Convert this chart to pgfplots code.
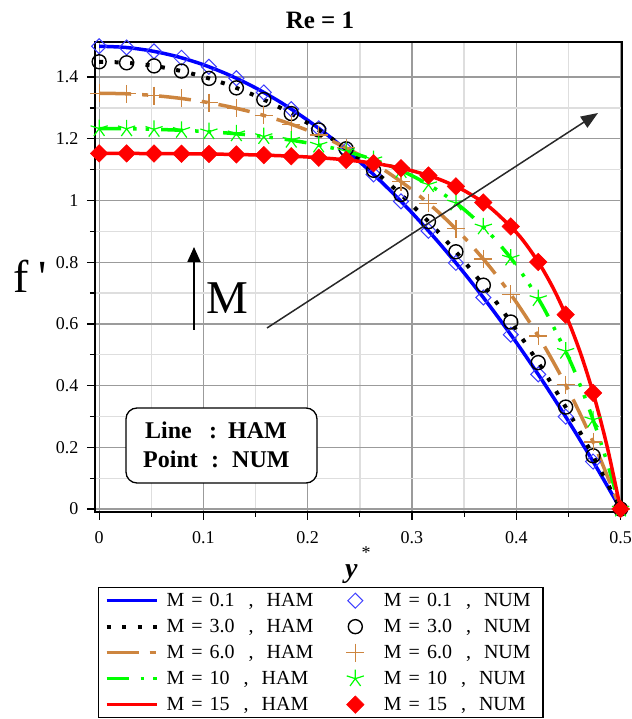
\documentclass[border=0pt]{standalone}
\usepackage{pgfplots}
\pgfplotsset{compat=1.18}
\usepackage{fontspec}
\setmainfont{Liberation Serif}
\usetikzlibrary{arrows.meta}
\definecolor{hamblue}{RGB}{0,0,255}
\definecolor{numblue}{RGB}{60,60,255}
\definecolor{hambrown}{RGB}{205,133,63}
\definecolor{hamgreen}{RGB}{0,255,0}
\definecolor{hamred}{RGB}{255,0,0}
\definecolor{majgrid}{RGB}{155,155,155}
\definecolor{mingrid}{RGB}{222,222,222}
\definecolor{arrowgray}{RGB}{40,40,40}
\pgfplotsset{
  hamleg/.style={legend image code/.code={\draw[##1] (0pt,0pt) -- (50pt,0pt);}},
  numleg/.style={legend image code/.code={\path (0pt,0pt) (40pt,0pt); \draw[##1] plot coordinates {(20pt,0pt)};}},
}
\newcommand{\hamtxt}[1]{\makebox[160pt][l]{M\hspace{7pt}=\hspace{7pt}#1\hspace{14pt},\hspace{13pt}HAM}}
\newcommand{\numtxt}[1]{\makebox[145pt][l]{M\hspace{7pt}=\hspace{7pt}#1\hspace{14pt},\hspace{13pt}NUM}}
\begin{document}
\begin{tikzpicture}
\useasboundingbox (0pt,0pt) rectangle (631pt,719pt);
\begin{axis}[
  at={(95pt,207pt)}, anchor=south west,
  scale only axis, width=527pt, height=470pt,
  xmin=-0.004, xmax=0.5014, ymin=-0.0097, ymax=1.5138,
  xtick={0,0.1,0.2,0.3,0.4,0.5}, ytick={0,0.2,0.4,0.6,0.8,1,1.2,1.4},
  minor x tick num=1, minor y tick num=1,
  grid=both,
  major grid style={majgrid, line width=1.3pt},
  minor grid style={mingrid, line width=1.3pt},
  tick align=outside, tick pos=left,
  major tick length=8pt, minor tick length=5pt,
  tick style={black, line width=1.2pt},
  axis line style={black, line width=1.3pt},
  tick label style={font=\fontsize{18}{20}\selectfont},
  xticklabel style={yshift=-8pt},
  yticklabel style={xshift=-5pt},
  /pgf/number format/assume math mode=true,
  clip=false,
  legend columns=2,
  legend cell align=left,
  legend style={at={(axis description cs:0.0057,-0.1596)}, anchor=north west,
    draw=black, line width=1.3pt, inner xsep=6pt, inner ysep=0pt,
    font=\fontsize{20}{22}\selectfont,
    nodes={inner xsep=8pt, inner ysep=4.5pt, text height=14pt, text depth=3pt},
    row sep=0pt, column sep=0pt},
]
% M = 0.1
\addplot[hamblue, line width=3.5pt, smooth, hamleg] coordinates {
(0,1.5)(0.025,1.49625)(0.05,1.485)(0.075,1.46625)(0.1,1.44)(0.125,1.40625)(0.15,1.365)(0.175,1.31625)(0.2,1.26)(0.225,1.19625)(0.25,1.125)(0.275,1.04625)(0.3,0.96)(0.325,0.86625)(0.35,0.765)(0.375,0.65625)(0.4,0.54)(0.425,0.41625)(0.45,0.285)(0.475,0.14625)(0.5,0)};
\addlegendentry{\hamtxt{0.1}}
\addplot[numblue, only marks, mark=square, mark size=5.3pt, mark options={rotate=45, line width=1pt, solid}, numleg] coordinates {
(0,1.5)(0.02632,1.4958)(0.05263,1.4834)(0.07895,1.4626)(0.10526,1.4335)(0.13158,1.3961)(0.15789,1.3504)(0.18421,1.2964)(0.21053,1.2341)(0.23684,1.1634)(0.26316,1.0845)(0.28947,0.9972)(0.31579,0.9017)(0.34211,0.7978)(0.36842,0.6856)(0.39474,0.5651)(0.42105,0.4363)(0.44737,0.2992)(0.47368,0.1537)(0.5,0)};
\addlegendentry{\numtxt{0.1}}
% M = 3
\addplot[black, line width=4pt, smooth, dash pattern=on 4pt off 11.5pt, hamleg] coordinates {
(0,1.4497)(0.025,1.44668)(0.05,1.43762)(0.075,1.42243)(0.1,1.4011)(0.125,1.37344)(0.15,1.33932)(0.175,1.29855)(0.2,1.25089)(0.225,1.19609)(0.25,1.13382)(0.275,1.06374)(0.3,0.98546)(0.325,0.89853)(0.35,0.80247)(0.375,0.69673)(0.4,0.58073)(0.425,0.4538)(0.45,0.31523)(0.475,0.16421)(0.5,0)};
\addlegendentry{\hamtxt{3.0}}
\addplot[black, only marks, mark=o, mark size=7pt, mark options={line width=1.4pt, solid}, numleg] coordinates {
(0,1.4497)(0.02632,1.44636)(0.05263,1.43631)(0.07895,1.41949)(0.10526,1.39581)(0.13158,1.3651)(0.15789,1.32717)(0.18421,1.2818)(0.21053,1.2287)(0.23684,1.16754)(0.26316,1.09793)(0.28947,1.01945)(0.31579,0.93159)(0.34211,0.83382)(0.36842,0.72553)(0.39474,0.60604)(0.42105,0.47459)(0.44737,0.33038)(0.47368,0.17252)(0.5,0)};
\addlegendentry{\numtxt{3.0}}
% M = 6
\addplot[hambrown, line width=3.5pt, smooth, dash pattern=on 32pt off 11pt on 6pt off 11pt, hamleg] coordinates {
(0,1.34768)(0.025,1.346)(0.05,1.34094)(0.075,1.33237)(0.1,1.32011)(0.125,1.30388)(0.15,1.28331)(0.175,1.25794)(0.2,1.22719)(0.225,1.19038)(0.25,1.14667)(0.275,1.09509)(0.3,1.03445)(0.325,0.96341)(0.35,0.88035)(0.375,0.78341)(0.4,0.6704)(0.425,0.53877)(0.45,0.38556)(0.475,0.20731)(0.5,0)};
\addlegendentry{\hamtxt{6.0}}
\addplot[hambrown, only marks, mark=+, mark size=9pt, mark options={line width=1.2pt, solid}, numleg] coordinates {
(0,1.34768)(0.02632,1.34582)(0.05263,1.3402)(0.07895,1.33069)(0.10526,1.31703)(0.13158,1.2989)(0.15789,1.27584)(0.18421,1.24727)(0.21053,1.21248)(0.23684,1.17059)(0.26316,1.12058)(0.28947,1.06116)(0.31579,0.99089)(0.34211,0.90799)(0.36842,0.81039)(0.39474,0.69565)(0.42105,0.56091)(0.44737,0.4028)(0.47368,0.21738)(0.5,0)};
\addlegendentry{\numtxt{6.0}}
% M = 10
\addplot[hamgreen, line width=3.5pt, smooth, dash pattern=on 22pt off 12pt on 3.5pt off 9pt on 3.5pt off 12pt, hamleg] coordinates {
(0,1.23313)(0.025,1.2326)(0.05,1.23098)(0.075,1.22816)(0.1,1.22398)(0.125,1.21816)(0.15,1.21035)(0.175,1.20004)(0.2,1.1866)(0.225,1.16918)(0.25,1.14668)(0.275,1.11769)(0.3,1.08039)(0.325,1.03244)(0.35,0.97082)(0.375,0.89166)(0.4,0.78999)(0.425,0.65942)(0.45,0.49175)(0.4625,0.39083)(0.475,0.27645)(0.4875,0.14686)(0.5,0)};
\addlegendentry{\hamtxt{10}}
\addplot[hamgreen, only marks, mark=star, mark size=9pt, mark options={line width=1.2pt, solid}, numleg] coordinates {
(0,1.23313)(0.02632,1.23254)(0.05263,1.23074)(0.07895,1.2276)(0.10526,1.2229)(0.13158,1.21632)(0.15789,1.20739)(0.18421,1.1955)(0.21053,1.17981)(0.23684,1.15923)(0.26316,1.13234)(0.28947,1.09725)(0.31579,1.05152)(0.34211,0.99197)(0.36842,0.91445)(0.39474,0.81356)(0.42105,0.68227)(0.44737,0.51144)(0.47368,0.28917)(0.5,0)};
\addlegendentry{\numtxt{10}}
% M = 15
\addplot[hamred, line width=3.5pt, smooth, hamleg] coordinates {
(0,1.15257)(0.025,1.15248)(0.05,1.15219)(0.075,1.15167)(0.1,1.15084)(0.125,1.14959)(0.15,1.14772)(0.175,1.14499)(0.2,1.141)(0.225,1.13517)(0.25,1.1267)(0.275,1.11435)(0.3,1.09639)(0.325,1.07026)(0.35,1.03223)(0.375,0.9769)(0.4,0.89639)(0.4125,0.84329)(0.425,0.77924)(0.4375,0.70199)(0.45,0.60881)(0.4625,0.4964)(0.475,0.36082)(0.4875,0.19727)(0.5,0)};
\addlegendentry{\hamtxt{15}}
\addplot[hamred, only marks, mark=square*, mark size=6.2pt, mark options={rotate=45, line width=0.5pt, solid, fill=hamred}, numleg] coordinates {
(0,1.15257)(0.02632,1.15247)(0.05263,1.15215)(0.07895,1.15157)(0.10526,1.15062)(0.13158,1.14916)(0.15789,1.14697)(0.18421,1.14369)(0.21053,1.13881)(0.23684,1.13155)(0.26316,1.12078)(0.28947,1.10478)(0.31579,1.08104)(0.34211,1.04581)(0.36842,0.99352)(0.39474,0.91593)(0.42105,0.80078)(0.44737,0.62991)(0.47368,0.37632)(0.5,0)};
\addlegendentry{\numtxt{15}}
\end{axis}
% title
\node[anchor=base, font=\fontsize{25}{27}\selectfont\bfseries] at (320pt,690pt) {Re = 1};
% y label
\node[anchor=base west, font=\fontsize{46}{50}\selectfont, inner sep=0pt] at (13pt,426pt) {f\hspace{10pt}\textquotesingle};
% x label
\node[anchor=base west, font=\fontsize{28}{30}\selectfont\bfseries\itshape, inner sep=0pt] at (345pt,141pt) {y};
\node[font=\fontsize{18}{20}\selectfont, inner sep=0pt] at (366pt,166pt) {*};
% M arrow and label
\draw[black, line width=1.8pt, -{Triangle[length=15pt,width=13pt]}] (194pt,389pt) -- (194pt,472pt);
\node[anchor=base west, font=\fontsize{47}{50}\selectfont, inner sep=0pt] at (206pt,405pt) {M};
\draw[arrowgray, line width=1.5pt, -{Triangle[length=17pt,width=13pt]}] (267pt,391pt) -- (598pt,606pt);
% box
\draw[black, line width=1.3pt, rounded corners=11pt, fill=white] (126pt,236pt) rectangle (317pt,311pt);
\begin{scope}[every node/.style={anchor=base west, inner sep=0pt, font=\fontsize{24}{26}\selectfont\bfseries}]
\node at (145pt,280pt) {Line};
\node at (209pt,280pt) {:};
\node at (228pt,280pt) {HAM};
\node at (143pt,251pt) {Point};
\node at (211pt,251pt) {:};
\node at (232pt,251pt) {NUM};
\end{scope}
\end{tikzpicture}
\end{document}
